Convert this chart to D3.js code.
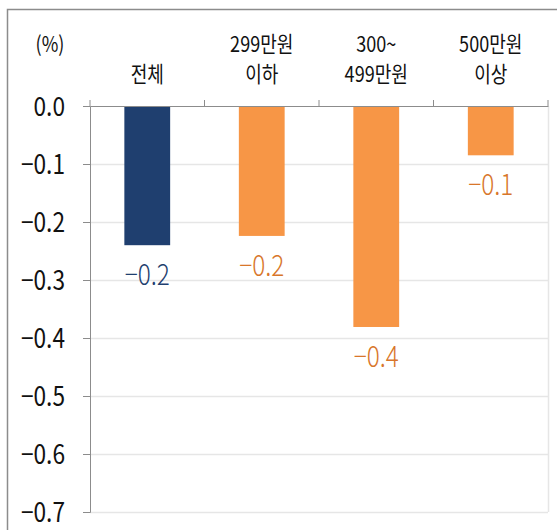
<!DOCTYPE html>
<html>
<head>
<meta charset="utf-8">
<script src="https://cdn.jsdelivr.net/npm/d3@7"></script>
<style>
  body { margin: 0; background: #fff; }
  text { font-family: "Noto Sans CJK KR", "Noto Sans", sans-serif; }
</style>
</head>
<body>
<div id="chart"></div>
<script>
var categories = ["전체", "299만원 이하", "300~ 499만원", "500만원 이상"];
var catLines = [["", "전체"], ["299만원", "이하"], ["300~", "499만원"], ["500만원", "이상"]];
var values = [-0.24, -0.224, -0.381, -0.085];
var barColors = ["#1f3f6f", "#f79646", "#f79646", "#f79646"];
var labelColors = ["#1f3f6f", "#d8762a", "#d8762a", "#d8762a"];
var yTicks = [0, -0.1, -0.2, -0.3, -0.4, -0.5, -0.6, -0.7];

var width = 557, height = 530;
var plot = { left: 90, right: 548, top: 106, bottom: 512 };
var squeeze = 0.84;

var svg = d3.select("#chart").append("svg")
    .attr("width", width)
    .attr("height", height);

// outer frame
svg.append("path")
    .attr("d", "M7.5," + height + "V9.5H" + width)
    .attr("fill", "none")
    .attr("stroke", "#8c8c8c")
    .attr("stroke-width", 1.5);

var x = d3.scaleBand()
    .domain(categories)
    .range([plot.left, plot.right])
    .padding(0);

var y = d3.scaleLinear()
    .domain([-0.7, 0])
    .range([plot.bottom, plot.top]);

var fmt = d3.format(".1f");

// gridlines
svg.append("g")
    .selectAll("line")
    .data(yTicks.filter(function (d) { return d !== 0; }))
    .enter().append("line")
    .attr("x1", plot.left)
    .attr("x2", plot.right)
    .attr("y1", function (d) { return y(d) + 0.5; })
    .attr("y2", function (d) { return y(d) + 0.5; })
    .attr("stroke", "#e6e6e6")
    .attr("stroke-width", 1.5);

// right border of plot
svg.append("line")
    .attr("x1", plot.right + 0.5).attr("x2", plot.right + 0.5)
    .attr("y1", plot.top).attr("y2", plot.bottom)
    .attr("stroke", "#e6e6e6")
    .attr("stroke-width", 1.5);

// bars
var bw = x.bandwidth() * 0.4;
svg.append("g")
    .selectAll("rect")
    .data(values)
    .enter().append("rect")
    .attr("x", function (d, i) { return x(categories[i]) + (x.bandwidth() - bw) / 2; })
    .attr("y", y(0))
    .attr("width", bw)
    .attr("height", function (d) { return y(d) - y(0); })
    .attr("fill", function (d, i) { return barColors[i]; });

// y axis
var yAxis = d3.axisLeft(y)
    .tickValues(yTicks)
    .tickSize(7)
    .tickFormat(function () { return ""; });

var yg = svg.append("g")
    .attr("transform", "translate(" + plot.left + ",0)")
    .call(yAxis);
yg.select(".domain").attr("stroke", "#8c8c8c");
yg.selectAll(".tick line").attr("stroke", "#8c8c8c");

yg.selectAll(".tick")
    .append("text")
    .attr("fill", "#111")
    .attr("stroke", "none")
    .attr("font-size", 27)
    .attr("font-weight", 400)
    .attr("text-anchor", "end")
    .attr("transform", "translate(-25,9) scale(" + squeeze + ",1)")
    .text(function (d) { return fmt(d); });

// zero line with category ticks
var xAxis = d3.axisTop(x)
    .tickSize(0)
    .tickFormat(function () { return ""; });
var xg = svg.append("g")
    .attr("transform", "translate(0," + y(0) + ")")
    .call(xAxis);
xg.select(".domain").attr("stroke", "#8c8c8c").attr("stroke-width", 1.2);

var bounds = categories.map(function (c) { return x(c); }).concat([plot.right]);
xg.selectAll("line.sep")
    .data(bounds)
    .enter().append("line")
    .attr("class", "sep")
    .attr("x1", function (d) { return d; })
    .attr("x2", function (d) { return d; })
    .attr("y1", 0)
    .attr("y2", -6)
    .attr("stroke", "#8c8c8c");

// category labels
var catG = svg.append("g");
catLines.forEach(function (lines, i) {
    var cx = x(categories[i]) + x.bandwidth() / 2;
    lines.forEach(function (t, j) {
        if (!t) return;
        catG.append("text")
            .attr("transform", "translate(" + cx + "," + (52 + j * 30) + ") scale(" + squeeze + ",1)")
            .attr("text-anchor", "middle")
            .attr("font-size", 21.5)
            .attr("font-weight", 400)
            .attr("fill", "#111")
            .text(t);
    });
});

// unit label
svg.append("text")
    .attr("transform", "translate(50,52) scale(" + squeeze + ",1)")
    .attr("text-anchor", "middle")
    .attr("font-size", 21.5)
    .attr("font-weight", 400)
    .attr("fill", "#111")
    .text("(%)");

// value labels
svg.append("g")
    .selectAll("text")
    .data(values)
    .enter().append("text")
    .attr("transform", function (d, i) {
        var cx = x(categories[i]) + x.bandwidth() / 2;
        return "translate(" + cx + "," + (y(d) + 40) + ") scale(" + squeeze + ",1)";
    })
    .attr("text-anchor", "middle")
    .attr("font-size", 29)
    .attr("font-weight", 300)
    .attr("fill", function (d, i) { return labelColors[i]; })
    .text(function (d) { return fmt(d); });
</script>
</body>
</html>
